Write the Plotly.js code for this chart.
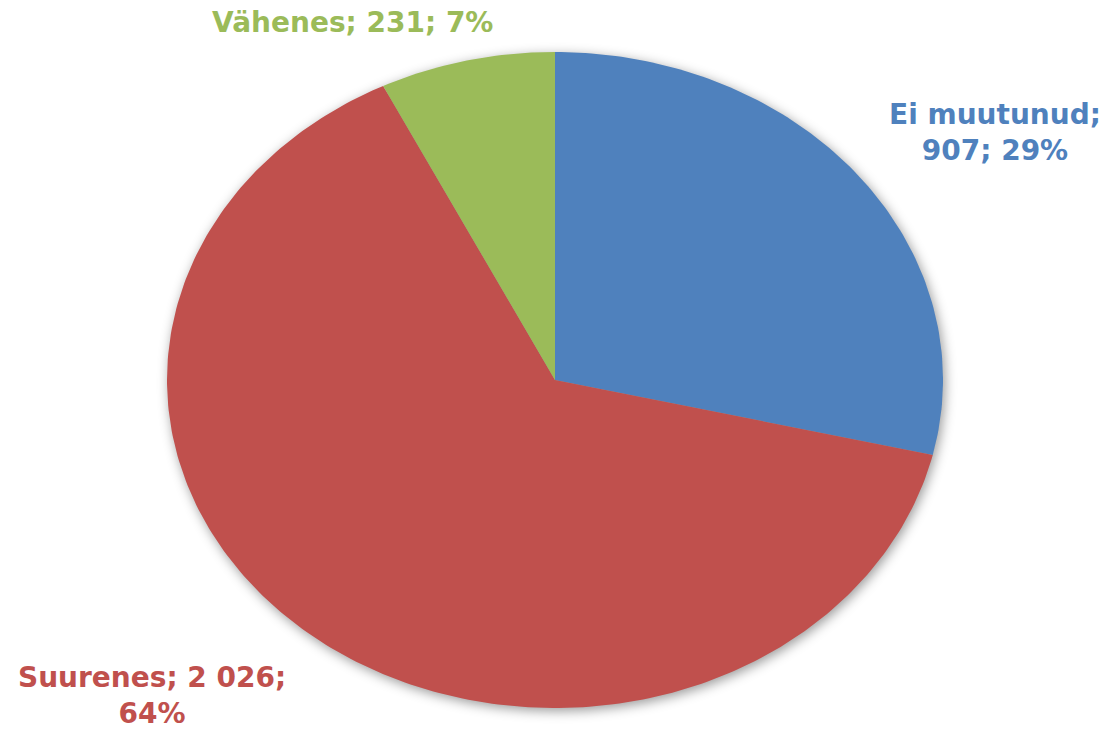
<!DOCTYPE html>
<html>
<head>
<meta charset="utf-8">
<script src="https://cdn.plot.ly/plotly-3.0.1.min.js"></script>
<style>
html,body{margin:0;padding:0;background:#fff;}
#chart{width:1112px;height:729px;}
#chart .scatterlayer{filter:drop-shadow(2px 3px 6px rgba(0,0,0,0.4));}
</style>
</head>
<body>
<div id="chart"></div>
<script>
// Data
const categories = ["Ei muutunud", "Suurenes", "Vähenes"];
const values = [907, 2026, 231];
const colors = ["#4F81BD", "#C0504D", "#9BBB59"];

// Layout constants (pixel-like plot coordinates)
const W = 1112, H = 729;
const cx = 555, cy = 380, rx = 388, ry = 328;
const labelPos = [
  {x: 995, y: 132},
  {x: 152, y: 695},
  {x: 352, y: 22}
];

function fmt(n){
  return String(n).replace(/\B(?=(\d{3})+(?!\d))/g, " ");
}

const total = values.reduce((a,b)=>a+b,0);
const traces = [];
const annotations = [];
let acc = 0;
values.forEach((v,i)=>{
  const a0 = acc/total*2*Math.PI;
  acc += v;
  const a1 = acc/total*2*Math.PI;
  const xs = [cx], ys = [cy];
  const n = Math.max(8, Math.ceil((a1-a0)/(2*Math.PI)*400));
  for(let k=0;k<=n;k++){
    const a = a0 + (a1-a0)*k/n;
    xs.push(cx + rx*Math.sin(a));
    ys.push(cy - ry*Math.cos(a));
  }
  xs.push(cx); ys.push(cy);
  traces.push({
    type:"scatter", mode:"lines", x:xs, y:ys, fill:"toself",
    fillcolor:colors[i], line:{width:0, color:colors[i]},
    hoverinfo:"skip", showlegend:false, name:categories[i]
  });
  const pct = Math.round(v/total*100) + "%";
  let txt;
  if(i===0) txt = categories[i] + ";<br>" + fmt(v) + "; " + pct;
  else if(i===1) txt = categories[i] + "; " + fmt(v) + ";<br>" + pct;
  else txt = categories[i] + "; " + fmt(v) + "; " + pct;
  annotations.push({
    x: labelPos[i].x, y: labelPos[i].y, xref:"x", yref:"y",
    text: txt, showarrow:false, align:"center",
    font:{family:"'DejaVu Sans', sans-serif", size:28, color:colors[i], weight:"bold"}
  });
});

const layout = {
  width: W, height: H,
  margin:{l:0,r:0,t:0,b:0},
  paper_bgcolor:"#fff", plot_bgcolor:"#fff",
  xaxis:{range:[0,W], visible:false, fixedrange:true},
  yaxis:{range:[H,0], visible:false, fixedrange:true},
  annotations: annotations,
  showlegend:false
};
Plotly.newPlot("chart", traces, layout, {displayModeBar:false, staticPlot:true});
</script>
</body>
</html>
